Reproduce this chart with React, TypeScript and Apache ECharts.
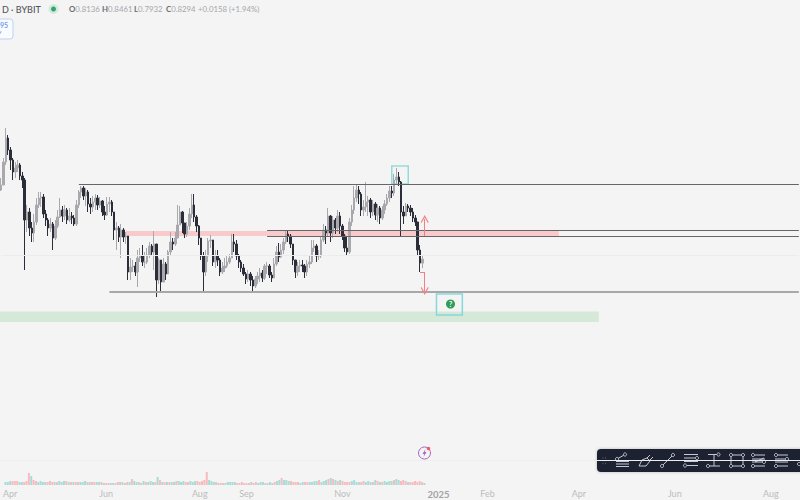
import React, { useEffect, useRef } from "react";
import * as echarts from "echarts";

const firstOpen = 1.106;
const closes = [
  1.126,1.218,1.314,1.266,1.226,1.178,1.194,1.206,1.162,1.146,
  .986,1.018,.954,.934,.978,1.046,1.074,1.078,1.010,.986,
  .954,.970,.914,.962,.998,1.026,1.002,1.026,.986,1.002,
  .994,.970,1.046,1.098,1.114,1.082,1.098,1.050,1.038,1.058,
  1.074,1.046,1.062,1.018,1.006,1.050,1.058,1.018,.946,.954,
  .918,.946,.918,.922,.778,.798,.802,.778,.834,.842,
  .818,.818,.846,.882,.858,.890,.746,.826,.738,.810,
  .770,.858,.898,.890,.914,.966,1.018,.974,.930,.962,
  1.010,1.046,.998,.962,.914,.842,.778,.842,.902,.906,
  .818,.842,.826,.778,.794,.802,.818,.834,.898,.890,
  .842,.818,.794,.770,.750,.770,.746,.722,.750,.762,
  .774,.754,.802,.802,.766,.754,.810,.858,.838,.866,
  .898,.930,.922,.890,.826,.778,.802,.806,.802,.778,
  .810,.818,.874,.882,.842,.842,.906,.946,.934,1.002,
  .934,.986,.954,1.002,.962,.922,.874,.858,.978,1.026,
  1.074,1.106,1.090,1.026,1.038,1.058,1.066,1.018,1.050,1.006,
  1.034,.994,1.026,1.050,1.074,1.102,1.094,1.146,1.158,1.138,
  1.018,1.002,1.042,1.034,1.018,.994,.978,.866,.8136,.8294,
];
const highs = [
  1.154,1.234,1.354,1.326,1.278,1.234,1.218,1.226,1.214,1.178,
  1.154,1.046,1.034,.978,1.010,1.074,1.098,1.098,1.090,1.026,
  .994,.994,.978,.986,1.026,1.074,1.042,1.046,1.034,1.034,
  1.018,1.006,1.066,1.106,1.122,1.122,1.114,1.106,1.074,1.082,
  1.090,1.086,1.078,1.066,1.042,1.078,1.078,1.066,1.018,.978,
  .962,.970,.954,.938,.922,.834,.826,.818,.866,.874,
  .886,.858,.874,.898,.890,.942,.890,.834,.818,.834,
  .818,.866,.938,.914,.938,1.046,1.042,1.022,.974,.978,
  1.034,1.090,1.090,1.006,.966,.914,.858,.866,.914,.926,
  .906,.866,.866,.834,.818,.834,.842,.850,.930,.930,
  .906,.850,.826,.810,.778,.786,.778,.762,.762,.778,
  .794,.786,.810,.818,.810,.778,.834,.882,.894,.890,
  .914,.946,.946,.930,.890,.826,.818,.826,.826,.810,
  .826,.842,.906,.906,.890,.866,.922,.970,.962,1.034,
  1.006,1.002,.994,1.026,1.018,.970,.930,.922,.994,1.046,
  1.122,1.130,1.122,1.098,1.066,1.138,1.082,1.074,1.066,1.058,
  1.050,1.042,1.042,1.066,1.090,1.122,1.122,1.170,1.194,1.178,
  1.142,1.042,1.054,1.050,1.046,1.034,1.006,.978,.886,.8461,
];
const lows = [
  1.102,1.154,1.206,1.246,1.186,1.146,1.154,1.178,1.146,1.114,
  .786,.938,.922,.898,.898,.966,1.034,1.038,.994,.962,
  .922,.938,.866,.906,.954,.994,.978,.986,.970,.978,
  .970,.962,.962,1.034,1.074,1.066,1.042,1.018,1.010,1.018,
  1.026,1.026,1.034,1.002,.986,1.002,1.018,1.002,.906,.866,
  .898,.834,.898,.890,.746,.746,.778,.762,.718,.818,
  .802,.794,.810,.834,.842,.786,.678,.730,.702,.746,
  .746,.778,.842,.866,.882,.922,.986,.934,.914,.918,
  .946,.994,.978,.938,.886,.826,.698,.762,.818,.874,
  .802,.794,.802,.762,.770,.778,.794,.810,.834,.858,
  .826,.794,.778,.762,.730,.738,.722,.698,.714,.730,
  .738,.738,.746,.770,.754,.738,.754,.802,.818,.834,
  .850,.890,.898,.874,.806,.754,.762,.778,.778,.754,
  .762,.794,.810,.858,.818,.826,.834,.898,.890,.922,
  .898,.914,.930,.938,.930,.906,.858,.842,.850,.962,
  1.010,1.058,1.050,1.002,1.002,1.018,1.002,.994,1.002,.986,
  .978,.970,.986,1.010,1.042,1.058,1.074,1.082,1.130,1.122,
  .918,.970,1.002,1.018,1.002,.978,.962,.842,.778,.7932,
];
const volumes = [
  3,3,4,4,4,4,3,3,3,4,
  12,9,5,4,3,4,3,3,3,4,
  3,3,3,4,3,4,4,3,3,3,
  3,3,3,3,4,3,3,3,3,3,
  3,3,2,2,2,2,2,2,3,3,
  3,2,3,3,6,4,3,3,2,4,
  3,3,4,3,3,8,5,3,3,3,
  3,3,3,4,4,3,4,3,3,4,
  3,4,4,3,4,5,13,5,4,3,
  3,2,2,2,2,3,3,3,3,2,
  2,3,2,2,2,3,2,3,2,3,
  3,2,2,3,2,3,4,5,7,5,
  5,4,4,3,3,3,2,3,3,3,
  3,3,4,4,5,3,4,5,6,7,
  6,5,4,5,4,3,3,3,4,5,
  3,3,3,4,3,4,3,3,5,4,
  3,3,4,3,4,4,5,6,5,4,
  5,4,3,3,3,4,3,4,3,2,
];
const opens = [firstOpen, ...closes.slice(0, -1)];
const slotCount = 340;
const startDate = Date.UTC(2024, 2, 29);
const categories = Array.from({ length: slotCount }, (_, i) =>
  new Date(startDate + i * 36 * 3600 * 1000).toISOString().slice(0, 10)
);
const tickIndexes = [2, 43, 83, 103, 144, 185, 206, 245, 286, 327];
const tickLabels = ["Apr", "Jun", "Aug", "Sep", "Nov", "2025", "Feb", "Apr", "Jun", "Aug"];

const gridPrice = 0.846;
const darkLevels = [
  [33, 339, 1.13],
  [113, 339, 0.944],
  [113, 339, 0.922],
];
const supportLevel = [46, 339, 0.698];
const resistanceZone = [53, 237, 0.942, 0.922];
const demandZone = [254, 0.62, 0.578];
const highBox = [166, 173, 1.202, 1.13];
const targetBox = [185, 196, 0.69, 0.606];
const upMove = [180, 0.922, 0.99];
const downMoveHook = [178, 180, 0.778];
const downMove = [180, 0.778, 0.702];

const quoteKeys = ["O", "H", "L", "C"];
const quoteValues = ["0.8136", "0.8461", "0.7932", "0.8294"];
const quoteChange = "+0.0158 (+1.94%)";

const ICON = "#c6c9d4";
const ln = (x1: number, y1: number, x2: number, y2: number) => ({
  type: "line", shape: { x1, y1, x2, y2 }, style: { stroke: ICON, lineWidth: 1 }, silent: true,
});
const dot = (cx: number, cy: number) => ({
  type: "circle", shape: { cx, cy, r: 1.6 }, style: { stroke: ICON, fill: "#1e2230", lineWidth: 0.9 }, silent: true,
});
const icons = [
  ln(617, 459, 625, 454.5), dot(625, 454.5), dot(617, 459), ln(616, 461.5, 629, 461.5), ln(616, 464, 629, 464), ln(616, 466.5, 629, 466.5),
  { type: "polyline", shape: { points: [[639, 466], [642, 460], [647, 458], [650, 461], [646, 466], [639, 466]] }, style: { stroke: ICON, fill: "none", lineWidth: 1 }, silent: true },
  ln(647, 458, 650, 455), ln(650, 460, 653, 457),
  ln(662, 466, 673, 455), dot(662, 466), dot(673, 455),
  ln(684, 454.5, 698, 454.5), ln(684, 458, 695, 458), dot(697, 458), ln(684, 461.5, 698, 461.5), ln(687, 465.5, 698, 465.5), dot(685, 465.5),
  ln(708, 454.5, 717, 454.5), dot(718.5, 454.5), ln(714, 455, 714, 466), ln(709, 466, 720, 466), dot(708, 466),
  ln(731, 455, 743, 455), ln(743, 455, 743, 466), ln(743, 466, 731, 466), ln(731, 466, 731, 455), dot(731, 455), dot(743, 455), dot(731, 466), dot(743, 466),
  dot(753, 455), ln(755, 455, 765, 455), ln(752, 459, 765, 459), ln(755, 462, 764, 458), dot(764, 462), ln(752, 462, 762, 462), dot(753, 466), ln(755, 466, 765, 466),
  dot(776, 455), ln(778, 455, 788, 455), ln(775, 459, 785, 459), dot(787, 459), dot(776, 466), ln(778, 466, 788, 466), ln(775, 462, 788, 462),
  dot(799, 464),
];
const gripDots = [0, 1].flatMap((c) => [0, 1, 2].map((r) => ({
  type: "circle", shape: { cx: 603 + c * 2.6, cy: 458 + r * 2.8, r: 0.55 }, style: { fill: "#5c6274" }, silent: true,
})));
const quoteXs = [69, 102, 134, 166];
const quoteTexts = quoteKeys.map((k, i) => ({
  type: "text", x: quoteXs[i], y: 5, silent: true,
  style: {
    text: `{k|${k}}{v|${quoteValues[i]}}`,
    rich: {
      k: { fontSize: 7.8, fontFamily: "Lato", fontWeight: "bold", fill: "#6a6b72" },
      v: { fontSize: 7.8, fontFamily: "Lato", fill: "#a5a6ab" },
    },
  },
}));

export default function App() {
  const ref = useRef<HTMLDivElement>(null);
  useEffect(() => {
    document.body.style.margin = "0";
    const chart = echarts.init(ref.current!, undefined, { renderer: "svg" });
    const lineBase = { symbol: "none", silent: true };
    chart.setOption({
      animation: false,
      backgroundColor: "#f4f4f4",
      tooltip: { show: false },
      grid: [
        { left: 0, top: 0, width: 802.4, height: 460, containLabel: false },
        { left: 0, top: 461, width: 802.4, height: 24, containLabel: false },
      ],
      xAxis: [
        {
          type: "category", gridIndex: 0, data: categories, boundaryGap: true,
          axisLine: { show: true, lineStyle: { color: "#ededed", width: 1 } },
          axisTick: { show: false }, axisLabel: { show: false }, splitLine: { show: false },
        },
        {
          type: "category", gridIndex: 1, data: categories, boundaryGap: true,
          axisLine: { show: false }, axisTick: { show: false }, splitLine: { show: false },
          axisLabel: {
            show: true, margin: 4, fontSize: 9, fontFamily: "Lato", color: "#bcbcbc",
            interval: (i: number) => tickIndexes.includes(i),
            formatter: (_: string, i: number) => {
              const label = tickLabels[tickIndexes.indexOf(i)] ?? "";
              return label === "2025" ? `{b|${label}}` : label;
            },
            rich: { b: { fontSize: 9.5, fontFamily: "Lato", fontWeight: "bold", color: "#a3a3a6" } },
          },
        },
      ],
      yAxis: [
        { type: "value", gridIndex: 0, min: 0.026, max: 1.866, show: false, splitLine: { show: false } },
        { type: "value", gridIndex: 1, min: 0, max: 24, show: false, splitLine: { show: false } },
      ],
      series: [
        {
          type: "candlestick",
          xAxisIndex: 0, yAxisIndex: 0,
          barWidth: 2,
          data: closes.map((c, i) => [opens[i], c, lows[i], highs[i]]),
          itemStyle: { color: "#a9a9ad", color0: "#2b2e38", borderColor: "#a9a9ad", borderColor0: "#2b2e38", borderWidth: 1 },
          markArea: {
            silent: true,
            data: [
              [
                { xAxis: resistanceZone[0], yAxis: resistanceZone[2], itemStyle: { color: "#f9cacc" } },
                { xAxis: resistanceZone[1], yAxis: resistanceZone[3] },
              ],
              [
                { yAxis: demandZone[1], itemStyle: { color: "#d6e9d8" } },
                { xAxis: demandZone[0], yAxis: demandZone[2] },
              ],
              [
                { xAxis: highBox[0], yAxis: highBox[2], itemStyle: { color: "rgba(0,0,0,0)", borderColor: "#93dcdc", borderWidth: 1.5 } },
                { xAxis: highBox[1], yAxis: highBox[3] },
              ],
              [
                { xAxis: targetBox[0], yAxis: targetBox[2], itemStyle: { color: "rgba(0,0,0,0)", borderColor: "#86d8da", borderWidth: 1.5 } },
                { xAxis: targetBox[1], yAxis: targetBox[3] },
              ],
            ],
          },
          markLine: {
            ...lineBase,
            label: { show: false },
            data: [
              [
                { coord: [0, gridPrice], lineStyle: { color: "#ececec", width: 1, type: "solid" } },
                { coord: [339, gridPrice] },
              ],
              ...darkLevels.map((l) => [
                { coord: [l[0], l[2]], lineStyle: { color: "#666669", width: 1, type: "solid" } },
                { coord: [l[1], l[2]] },
              ]),
              [
                { coord: [supportLevel[0], supportLevel[2]], lineStyle: { color: "#a8a8a8", width: 2, type: "solid" } },
                { coord: [supportLevel[1], supportLevel[2]] },
              ],
              [
                { coord: [downMoveHook[0], downMoveHook[2]], lineStyle: { color: "#f47e83", width: 1, type: "solid" } },
                { coord: [downMoveHook[1], downMoveHook[2]] },
              ],
              [
                { coord: [upMove[0], upMove[1]], symbol: "none", lineStyle: { color: "#f47e83", width: 1, type: "solid" } },
                { coord: [upMove[0], upMove[2]], symbol: "path://M0 9L5 0L10 9L9 10L5 3L1 10Z", symbolSize: 8 },
              ],
              [
                { coord: [downMove[0], downMove[1]], symbol: "none", lineStyle: { color: "#f47e83", width: 1, type: "solid" } },
                { coord: [downMove[0], downMove[2]], symbol: "path://M0 9L5 0L10 9L9 10L5 3L1 10Z", symbolSize: 8 },
              ],
            ],
          },
        },
        {
          type: "bar",
          xAxisIndex: 1, yAxisIndex: 1,
          barWidth: 2,
          data: volumes.map((v, i) => ({
            value: v,
            itemStyle: { color: closes[i] >= opens[i] ? "#a9dcd6" : "#f7bcbf" },
          })),
        },
      ],
      graphic: [
        { type: "text", x: 2, y: 4.5, silent: true, style: { text: "D · BYBIT", font: "500 9px Lato", fill: "#55565e" } },
        { type: "circle", shape: { cx: 53.5, cy: 9, r: 5 }, style: { fill: "#d5e9df" }, silent: true },
        { type: "circle", shape: { cx: 53.5, cy: 9, r: 2.5 }, style: { fill: "#35a66b" }, silent: true },
        ...quoteTexts,
        { type: "text", x: 198, y: 5, silent: true, style: { text: quoteChange, font: "7.8px Lato", fill: "#a5a6ab" } },
        { type: "rect", shape: { x: -6, y: 19, width: 19, height: 20, r: 3 }, style: { fill: "#fafbfe", stroke: "#bed1f8", lineWidth: 1 }, silent: true },
        { type: "text", x: 0, y: 21, silent: true, style: { text: "95", font: "bold 7px Lato", fill: "#6f9bf0" } },
        { type: "text", x: -1, y: 29, silent: true, style: { text: "▾", font: "5px Lato", fill: "#8aaef2" } },
        { type: "circle", shape: { cx: 450.5, cy: 304, r: 4.5 }, style: { fill: "#2f9c5b" }, silent: true },
        { type: "text", x: 450.5, y: 304, silent: true, style: { text: "?", font: "bold 7px Lato", fill: "#ffffff", align: "center", verticalAlign: "middle" } },
        { type: "circle", shape: { cx: 424.5, cy: 453, r: 6 }, style: { fill: "none", stroke: "#a765c9", lineWidth: 1 }, silent: true },
        { type: "polygon", shape: { points: [[425.5, 449], [422.5, 454], [424.3, 454], [423.5, 457], [426.5, 452], [424.8, 452]] }, style: { fill: "#a765c9" }, silent: true },
        { type: "circle", shape: { cx: 428.5, cy: 448.5, r: 1.8 }, style: { fill: "#ee5a5f" }, silent: true },
        { type: "rect", shape: { x: 597, y: 449, width: 220, height: 23, r: 4 }, style: { fill: "#1e2230", shadowBlur: 3, shadowColor: "rgba(0,0,0,0.25)" }, silent: true },
        ...gripDots,
        ...icons,
      ],
    });
    return () => chart.dispose();
  }, []);
  return <div style={{ position: "fixed", left: 0, top: 0, width: 800, height: 500, overflow: "hidden" }}><div ref={ref} style={{ width: 800, height: 500 }} /></div>;
}
